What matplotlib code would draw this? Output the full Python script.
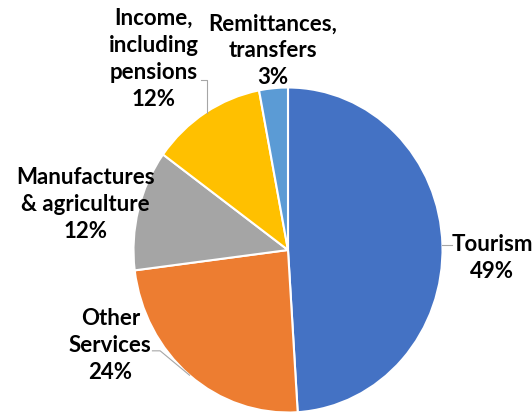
import numpy as np
import matplotlib.pyplot as plt

# Data
categories = ['Tourism', 'Other\nServices', 'Manufactures\n& agriculture',
              'Income,\nincluding\npensions', 'Remittances,\ntransfers']
shares = [49, 24, 12, 12, 3]
colors = ['#4472C4', '#ED7D31', '#A5A5A5', '#FFC000', '#5B9BD5']

# label centres (data units, pie radius = 1)
label_pos = [(1.32, -0.05), (-1.15, -0.585), (-1.31, 0.28), (-0.87, 1.175), (-0.10, 1.225)]

plt.rcParams['font.family'] = ['Lato', 'DejaVu Sans']

fig = plt.figure(figsize=(5.32, 4.16), dpi=100)
ax = fig.add_axes([0, 0, 1, 1])

wedges, _ = ax.pie(shares, colors=colors, startangle=90, counterclock=False,
                   wedgeprops=dict(edgecolor='white', linewidth=1.5))

# pie in the reference is slightly taller than wide
ax.set_aspect('auto')
ax.set_xlim(-288 / 154.5, 244 / 154.5)
ax.set_ylim(-166 / 162.5, 250 / 162.5)
ax.axis('off')

for w, cat, val, (tx, ty) in zip(wedges, categories, shares, label_pos):
    ax.text(tx, ty, f'{cat}\n{val}%', ha='center', va='center', fontsize=16,
            fontweight='bold', color='black', linespacing=1.35)

# leader lines from wedge edge
def edge(w):
    ang = np.deg2rad((w.theta1 + w.theta2) / 2)
    return np.cos(ang), np.sin(ang)

lc = '#A6A6A6'
ex, ey = edge(wedges[0])
ax.plot([ex, ex + 0.06], [ey, ey], color=lc, lw=0.8)
ex, ey = edge(wedges[1])
ax.plot([ex, ex - 0.19, ex - 0.24], [ey, ey + 0.15, ey + 0.15], color=lc, lw=0.8)
ex, ey = edge(wedges[3])
ax.plot([ex + 0.01, ex + 0.01, ex - 0.03], [ey, ey + 0.2, ey + 0.2], color=lc, lw=0.8)

fig.savefig('out.png', dpi=100)
